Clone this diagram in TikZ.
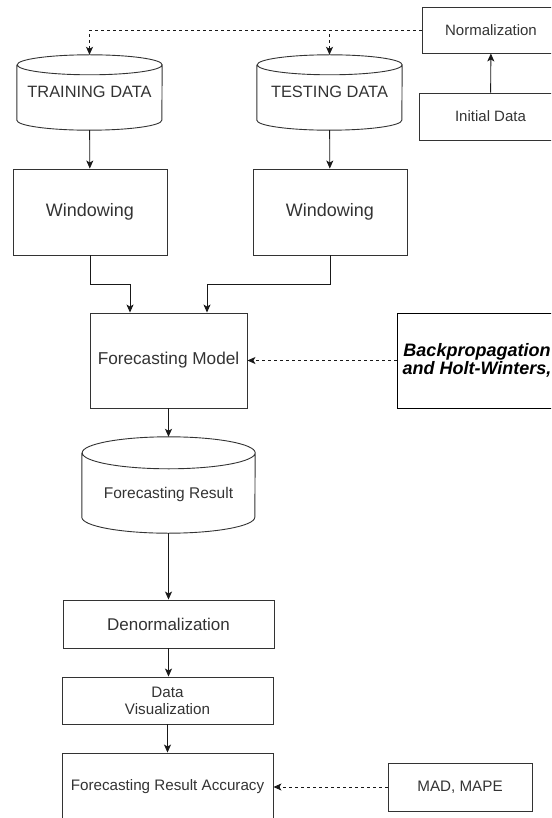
\documentclass[tikz,border=0pt]{standalone}
\usepackage{fontspec}
\setmainfont{Liberation Sans}
\usetikzlibrary{arrows.meta}

\definecolor{ink}{HTML}{333333}

% outline of a stored-data drum round a frame node
\newcommand\drawcyl[3]{%
  \draw[edge] ([yshift=-#3pt]#1.north west) -- ([yshift=#3pt]#1.south west)
    arc[start angle=180, end angle=360, x radius=#2pt, y radius=#3pt]
    -- ([yshift=-#3pt]#1.north east)
    arc[start angle=0, end angle=360, x radius=#2pt, y radius=#3pt];
}

\begin{document}
\begin{tikzpicture}[
    x=1pt, y=1pt,
    >={Stealth[length=8pt, width=7pt, inset=2pt]},
    edge/.style={draw=ink, line width=0.9pt},
    box/.style={rectangle, draw=ink, line width=0.9pt, text=ink, align=center, inner sep=2pt},
    frame/.style={rectangle, draw=none, inner sep=0pt},
    label/.style={text=ink, align=center, inner sep=0pt},
    flow/.style={->, line width=0.9pt, black!90},
    hint/.style={flow, dash pattern=on 3pt off 3pt},
    fs/.style={font=\fontsize{#1}{17}\selectfont}
]

    \useasboundingbox (0,0) rectangle (551,-818);
    \clip (0,0) rectangle (551,-818);

    % source data
    \node[box, fs=15, minimum width=138, minimum height=46] (norm) at (491,-30) {Normalization};
    \node[box, fs=15, minimum width=143, minimum height=47] (init) at (490.5,-116.5) {Initial Data};

    % data drums
    \node[frame, minimum width=145, minimum height=75] (train) at (89.5,-92.5) {};
    \node[frame, minimum width=145, minimum height=75] (test) at (329.5,-92.5) {};
    \node[frame, minimum width=173, minimum height=96] (result) at (168.5,-485) {};
    \drawcyl{train}{72.5}{10}
    \drawcyl{test}{72.5}{10}
    \drawcyl{result}{86.5}{16}
    \node[label, fs=16.4] (trainlbl) at (89.5,-92) {TRAINING DATA};
    \node[label, fs=16.4] (testlbl) at (329.5,-92) {TESTING DATA};
    \node[label, fs=15.5] (resultlbl) at (168.5,-494) {Forecasting Result};

    % processing
    \node[box, fs=18, minimum width=154, minimum height=86] (win1) at (90,-212) {Windowing};
    \node[box, fs=18, minimum width=154, minimum height=86] (win2) at (330,-212) {Windowing};
    \node[box, fs=17.2, minimum width=157, minimum height=95] (model) at (168.5,-360.5) {Forecasting Model};
    \node[box, draw=black, text=black, minimum width=160, minimum height=95,
          font=\bfseries\itshape\fontsize{18}{15}\selectfont] (bp) at (477,-360.5)
          {Backpropagation\\and Holt-Winters,};
    \node[box, fs=17, minimum width=211, minimum height=48] (denorm) at (168.5,-624) {Denormalization};
    \node[box, fs=15.2, minimum width=211, minimum height=47] (vis) at (167.5,-700.5) {Data\\Visualization};
    \node[box, fs=15.2, minimum width=211, minimum height=68] (acc) at (167.5,-787) {Forecasting Result Accuracy};
    \node[box, fs=15.2, minimum width=144, minimum height=48] (mad) at (460,-787) {MAD, MAPE};

    % connectors
    \draw[flow] (init) -- (norm);
    \draw[hint] (norm.west) -| (train.north);
    \draw[hint] (norm.west) -| (test.north);
    \draw[flow] (train) -- (win1);
    \draw[flow] (test) -- (win2);
    \draw[flow] (win1.south) -- ++(0,-29) -| ([xshift=-38.5pt]model.north);
    \draw[flow] (win2.south) -- ++(0,-29) -| ([xshift=38.5pt]model.north);
    \draw[hint] (bp) -- (model);
    \draw[flow] (model) -- (result);
    \draw[flow] (result) -- (denorm);
    \draw[flow] (denorm.south) -- (denorm.south |- vis.north);
    \draw[flow] (vis) -- (acc);
    \draw[hint] (mad) -- (acc);

\end{tikzpicture}
\end{document}
